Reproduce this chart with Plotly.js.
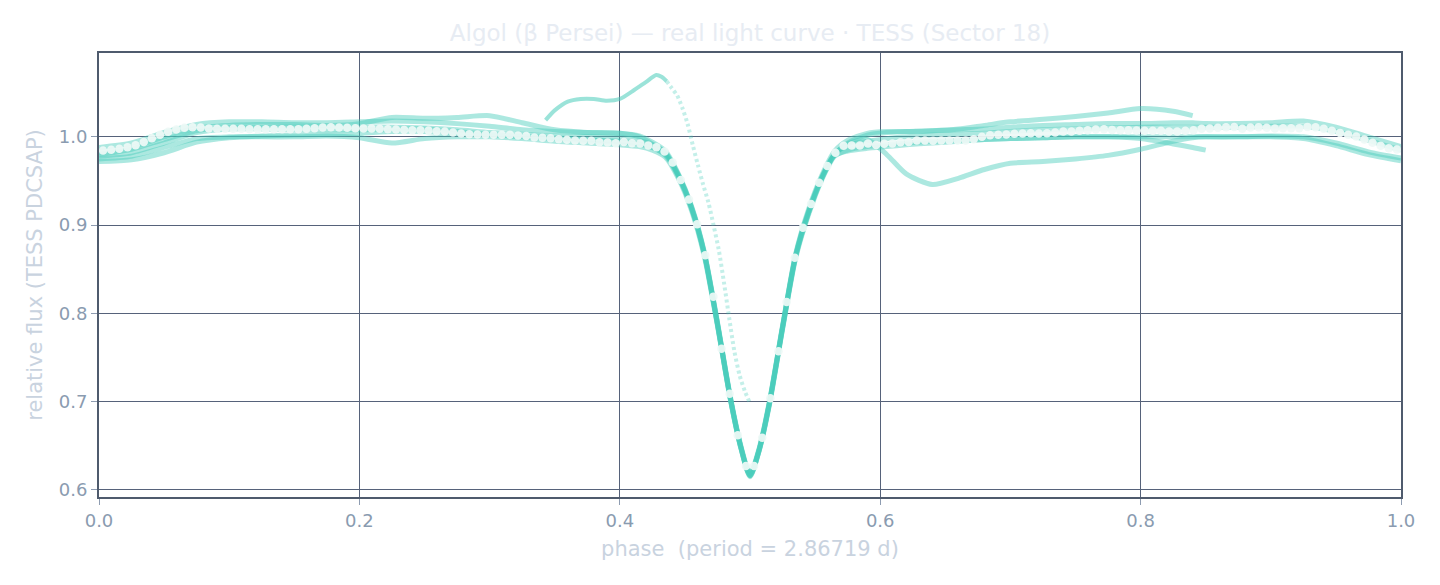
<!DOCTYPE html>
<html>
<head>
<meta charset="utf-8">
<script src="https://cdn.plot.ly/plotly-3.0.1.min.js"></script>
<style>html,body{margin:0;padding:0;background:#ffffff;}#chart{width:1440px;height:585px;}</style>
</head>
<body>
<div id="chart"></div>
<script>
// Shared phase grid for the individual orbital cycles (folded TESS data)
const phase = [0.000,0.025,0.050,0.075,0.100,0.125,0.150,0.175,0.200,0.225,0.250,0.275,0.300,0.325,0.350,0.375,0.400,
  0.415,0.425,0.435,0.445,0.455,0.465,0.475,0.485,0.493,0.500,0.507,0.515,0.525,0.535,0.545,0.555,0.565,0.575,
  0.590,0.605,0.620,0.640,0.660,0.680,0.700,0.725,0.750,0.775,0.800,0.825,0.840,0.850,0.875,0.900,0.925,0.950,0.975,1.000];

// Relative flux of each folded cycle
const cycle1 = [0.988,0.993,1.005,1.014,1.017,1.017,1.016,1.016,1.017,1.018,1.017,1.015,1.012,1.008,1.006,1.005,1.004,
  1.001,0.994,0.984,0.958,0.922,0.869,0.790,0.705,0.650,0.618,0.647,0.701,0.786,0.867,0.918,0.956,0.984,0.996,
  1.004,1.006,1.006,1.007,1.008,1.009,1.011,1.013,1.014,1.015,1.015,1.016,1.016,1.015,1.015,1.016,1.018,1.011,1.000,0.989];
const cycle2 = [0.984,0.988,1.000,1.010,1.013,1.014,1.014,1.013,1.015,1.022,1.021,1.022,1.024,1.016,1.008,1.005,1.004,
  1.000,0.992,0.982,0.956,0.920,0.867,0.788,0.703,0.648,0.616,0.645,0.699,0.784,0.865,0.915,0.953,0.980,0.993,
  1.002,1.005,1.006,1.007,1.009,1.013,1.017,1.020,1.023,1.027,1.032,1.029,1.024,null,null,null,null,null,null,null];
const cycle3 = [0.980,0.986,0.997,1.007,1.011,1.011,1.011,1.011,1.011,1.011,1.010,1.008,1.005,1.003,1.001,1.000,0.999,
  0.996,0.991,0.982,0.957,0.921,0.868,0.789,0.704,0.649,0.617,0.646,0.700,0.785,0.866,0.916,0.954,0.981,0.990,
  0.995,0.998,1.000,1.002,1.003,1.004,1.006,1.008,1.009,1.010,1.011,1.011,1.011,1.011,1.011,1.012,1.012,1.006,0.996,0.985];
const cycle4 = [0.975,0.978,0.988,0.998,1.000,1.000,1.000,1.001,0.999,0.993,0.998,1.000,1.000,0.998,0.995,0.993,0.991,
  0.989,0.985,0.977,0.953,0.917,0.864,0.786,0.702,0.647,0.615,0.644,0.697,0.782,0.862,0.912,0.951,0.978,0.985,
  0.989,0.991,0.993,0.995,0.996,0.997,0.998,0.999,1.000,1.000,0.998,0.992,0.988,0.985,null,null,null,null,null,null];
const cycle5 = [0.972,0.974,0.982,0.994,0.999,1.001,1.002,1.003,1.004,1.006,1.006,1.004,1.002,1.001,0.999,0.997,0.995,
  0.992,0.988,0.980,0.956,0.920,0.867,0.788,0.703,0.648,0.616,0.645,0.699,0.784,0.864,0.914,0.953,0.980,0.992,
  0.997,0.980,0.958,0.946,0.953,0.963,0.970,0.972,0.975,0.979,0.986,0.995,0.999,1.000,1.000,1.000,0.998,0.990,0.980,0.973];
const cycle6 = [0.978,0.982,0.993,1.005,1.009,1.009,1.008,1.008,1.008,1.009,1.009,1.006,1.003,1.000,0.998,0.996,0.994,
  0.992,0.988,0.979,0.955,0.919,0.866,0.787,0.702,0.648,0.616,0.645,0.698,0.783,0.864,0.914,0.952,0.979,0.984,
  0.987,0.989,0.991,0.993,0.995,0.997,0.998,0.999,1.000,1.000,1.000,1.000,1.000,1.000,1.000,1.001,1.000,0.993,0.983,0.976];

// Partial cycle with the pre-eclipse brightening (ends at phase 0.5)
const partialPhase = [0.343,0.350,0.360,0.370,0.380,0.390,0.400,0.410,0.420,0.428,0.432,0.436,
  0.440,0.444,0.448,0.452,0.456,0.460,0.464,0.468,0.472,0.476,0.480,0.484,0.488,0.492,0.496,0.4995];
const partialFlux = [1.019,1.030,1.040,1.043,1.043,1.041,1.043,1.052,1.062,1.070,1.068,1.063,
  1.055,1.047,1.033,1.015,0.991,0.968,0.946,0.926,0.900,0.872,0.835,0.795,0.757,0.730,0.712,0.700];
const partialSplit = 12; // points before this index form the dense segment

// Phase-binned mean light curve (160 bins)
const nBins = 160;
const binnedFlux = [
  0.9845,0.9853,0.9864,0.9883,0.9906,0.9943,0.9985,1.0023,1.0057,1.0083,1.0102,1.0110,1.0106,1.0094,
  1.0091,1.0091,1.0091,1.0091,1.0087,1.0087,1.0087,1.0087,1.0087,1.0087,1.0087,1.0091,1.0098,1.0106,
  1.0110,1.0106,1.0102,1.0098,1.0094,1.0094,1.0091,1.0087,1.0083,1.0079,1.0076,1.0076,1.0072,1.0064,
  1.0061,1.0049,1.0038,1.0030,1.0026,1.0023,1.0023,1.0023,1.0023,1.0015,1.0011,0.9992,0.9990,0.9983,
  0.9974,0.9966,0.9958,0.9955,0.9955,0.9940,0.9936,0.9928,0.9943,0.9928,0.9924,0.9902,0.9883,0.9834,0.9709,
  0.951,0.929,0.901,0.866,0.819,0.760,0.709,0.662,0.627,0.627,0.659,0.704,0.757,0.813,0.863,0.897,0.924,0.948,0.967,0.982,
  0.9898,0.9902,0.9902,0.9924,0.9909,0.9921,0.9924,0.9940,0.9943,0.9958,0.9958,0.9955,0.9958,0.9958,0.9958,0.9958,
  0.9973,1.0000,1.0019,1.0023,1.0026,1.0034,1.0038,1.0042,1.0038,1.0042,1.0050,
  1.0060,1.0060,1.0068,1.0076,1.0083,1.0087,1.0079,1.0076,1.0076,1.0072,1.0068,1.0068,1.0068,1.0060,1.0060,
  1.0068,1.0076,1.0091,1.0094,1.0102,
  1.0108,1.0112,1.0093,1.0106,1.0108,1.0102,1.0094,1.0098,1.0098,1.0098,1.0113,1.0110,1.0091,1.0068,1.0045,
  1.0023,1.0004,0.9970,0.9932,0.9898,0.9872,0.9856];
const binCenters = binnedFlux.map((_, i) => (i + 0.5) / nBins);

const xTickVals = [0, 0.2, 0.4, 0.6, 0.8, 1.0];
const yTickVals = [0.6, 0.7, 0.8, 0.9, 1.0];

const TEAL = 'rgba(72,204,186,0.45)';
const cycles = [cycle1, cycle2, cycle3, cycle4, cycle5, cycle6];
const traces = cycles.map(c => ({
  x: phase, y: c, type: 'scatter', mode: 'lines',
  line: {color: TEAL, width: 5, shape: 'spline', smoothing: 0.7},
  connectgaps: false, hoverinfo: 'skip', showlegend: false
}));
traces.push({
  x: partialPhase.slice(0, partialSplit), y: partialFlux.slice(0, partialSplit),
  type: 'scatter', mode: 'lines',
  line: {color: 'rgba(72,204,186,0.55)', width: 4, shape: 'spline', smoothing: 0.7},
  hoverinfo: 'skip', showlegend: false
});
traces.push({
  x: partialPhase.slice(partialSplit - 1), y: partialFlux.slice(partialSplit - 1),
  type: 'scatter', mode: 'lines',
  line: {color: 'rgba(72,204,186,0.32)', width: 4, shape: 'spline', smoothing: 0.7, dash: '3px,3px'},
  hoverinfo: 'skip', showlegend: false
});
traces.push({
  x: binCenters, y: binnedFlux, type: 'scatter', mode: 'markers',
  marker: {size: 8.5, color: 'rgba(238,249,246,0.93)', line: {width: 0}},
  hoverinfo: 'skip', showlegend: false
});

const FONT = '"DejaVu Sans", sans-serif';
const layout = {
  width: 1440, height: 585,
  paper_bgcolor: '#ffffff', plot_bgcolor: '#ffffff',
  margin: {l: 99, r: 39, t: 53, b: 88},
  font: {family: FONT},
  title: {
    text: 'Algol (β Persei) — real light curve · TESS (Sector 18)',
    font: {family: FONT, size: 23, color: '#e7ecf3'},
    xref: 'paper', x: 0.5, xanchor: 'center',
    yref: 'container', y: 0.944, yanchor: 'middle'
  },
  xaxis: {
    range: [0, 1], tickvals: xTickVals, tickformat: '.1f',
    showgrid: true, gridcolor: '#56627a', gridwidth: 1,
    showline: true, linecolor: '#4f5b6d', linewidth: 2, mirror: true,
    zeroline: false, ticks: 'outside', ticklen: 6, tickcolor: '#8e9cb1',
    tickfont: {family: FONT, size: 18, color: '#8a9bb0'},
    title: {text: 'phase\u00a0 (period = 2.86719 d)', font: {family: FONT, size: 21, color: '#c9d3df'}, standoff: 12}
  },
  yaxis: {
    range: [0.592, 1.095], tickvals: yTickVals, tickformat: '.1f',
    showgrid: true, gridcolor: '#56627a', gridwidth: 1,
    showline: true, linecolor: '#4f5b6d', linewidth: 2, mirror: true,
    zeroline: false, ticks: 'outside', ticklen: 6, tickcolor: '#8e9cb1',
    tickfont: {family: FONT, size: 18, color: '#8a9bb0'},
    title: {text: 'relative flux (TESS PDCSAP)', font: {family: FONT, size: 21, color: '#c9d3df'}, standoff: 10}
  }
};

Plotly.newPlot('chart', traces, layout, {displayModeBar: false, staticPlot: true});
</script>
</body>
</html>
